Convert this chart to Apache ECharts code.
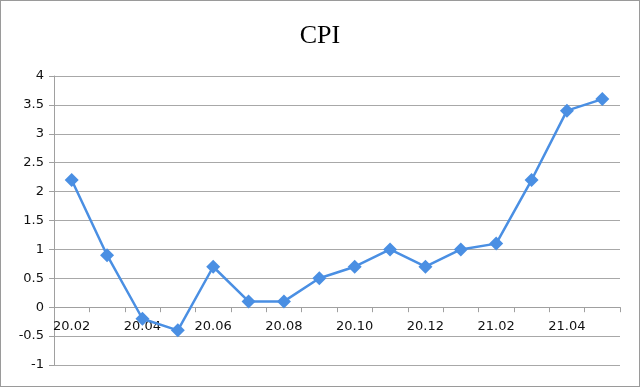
<!DOCTYPE html>
<html><head><meta charset="utf-8">
<script src="https://cdn.jsdelivr.net/npm/echarts@6/dist/echarts.min.js"></script>
<style>html,body{margin:0;padding:0;background:#fff}#c{width:638px;height:385px;border:1px solid #9a9a9a}</style>
</head><body><div id="c"></div>
<script>
var categories = ['20.02','20.03','20.04','20.05','20.06','20.07','20.08','20.09','20.10','20.11','20.12','21.01','21.02','21.03','21.04','21.05'];
var cpi = [2.2, 0.9, -0.2, -0.4, 0.7, 0.1, 0.1, 0.5, 0.7, 1.0, 0.7, 1.0, 1.1, 2.2, 3.4, 3.6];
var yMin = -1, yMax = 4;
var gridTop = 75, gridBottom = 21, H = 385;
var zeroOffset = -(H - gridTop - gridBottom) * (0 - yMin) / (yMax - yMin);
var chart = echarts.init(document.getElementById('c'));
chart.setOption({
  animation: false,
  title: {text: 'CPI', left: 'center', top: 17, textStyle: {fontFamily: 'Liberation Serif', fontSize: 26, fontWeight: 'normal', color: '#000'}},
  grid: {left: 53, right: 19, top: gridTop, bottom: gridBottom},
  xAxis: {
    type: 'category', data: categories, boundaryGap: true, position: 'bottom', offset: zeroOffset,
    axisLine: {onZero: false, lineStyle: {color: '#a0a0a0', width: 1}},
    axisTick: {show: true, length: 5, interval: 0, lineStyle: {color: '#a0a0a0'}},
    axisLabel: {interval: 1, margin: 13, fontFamily: 'DejaVu Sans', fontSize: 13, color: '#111'},
    splitLine: {show: false}
  },
  yAxis: {
    type: 'value', min: yMin, max: yMax, interval: 0.5,
    axisLine: {show: true, lineStyle: {color: '#a0a0a0'}},
    axisTick: {show: true, length: 5, lineStyle: {color: '#a0a0a0'}},
    axisLabel: {margin: 10, fontFamily: 'DejaVu Sans', fontSize: 13, color: '#111'},
    splitLine: {show: true, lineStyle: {color: '#a8a8a8', width: 1}}
  },
  series: [{
    type: 'line', data: cpi, symbol: 'diamond', symbolSize: 14,
    lineStyle: {color: '#4a8fe3', width: 2.5},
    itemStyle: {color: '#4a8fe3'}
  }]
});
</script></body></html>
